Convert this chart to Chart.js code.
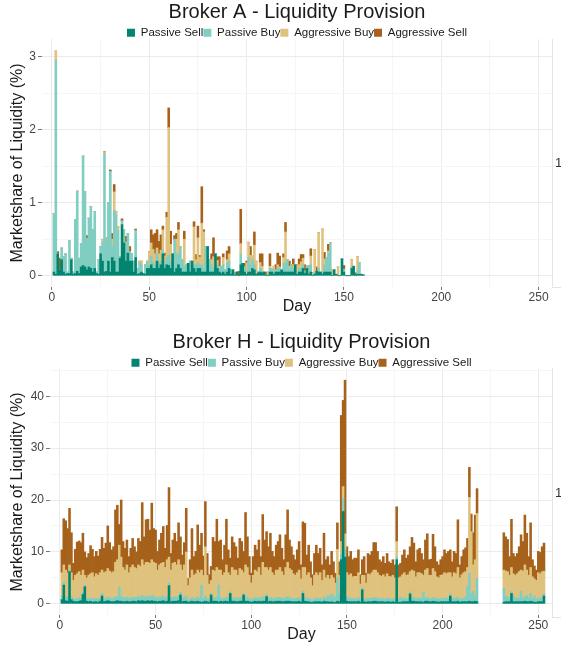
<!DOCTYPE html>
<html>
<head>
<meta charset="utf-8">
<script src="https://cdn.jsdelivr.net/npm/chart.js@4.4.1/dist/chart.umd.min.js"></script>
<style>
  body { margin: 0; background: #fff; }
  #wrap { position: relative; width: 561px; height: 647px; overflow: hidden; font-family: 'Liberation Sans', Arial, sans-serif; }
  canvas { position: absolute; left: 0; }
  .side { position: absolute; left: 552px; width: 14px; border-left: 1px solid #e4e4e4; border-bottom: 1px solid #e4e4e4; }
  .one { position: absolute; left: 555px; font-size: 13px; color: #333; }
</style>
</head>
<body>
<div id="wrap">
  <canvas id="chartA" width="561" height="320" style="top:0"></canvas>
  <canvas id="chartB" width="561" height="317" style="top:330px"></canvas>
  <div class="side" style="top:39px;height:248px"></div>
  <div class="side" style="top:368px;height:249px"></div>
  <div class="one" style="top:155px">1</div>
  <div class="one" style="top:485px">1</div>
</div>
<script>
var seriesNames = ['Passive Sell', 'Passive Buy', 'Aggressive Buy', 'Aggressive Sell'];
var seriesColors = ['#018571', '#80cdc1', '#dfc27d', '#a6611a'];

var xMajor = [0, 50, 100, 150, 200, 250];
var xMinor = [25, 75, 125, 175, 225];
var yMajorA = [0, 1, 2, 3];
var yMinorA = [0.5, 1.5, 2.5];
var yMajorB = [0, 10, 20, 30, 40];
var yMinorB = [5, 15, 25, 35, 45];

// Broker A, days 1..160
var dayRangesA = [[1, 160]];
var passiveSellA = [
  .05,.02,.30,.08,.22,.05,.02,.03,.03,.22,
  .02,.03,.06,.03,.12,.14,.12,.08,.12,.10,
  .05,.10,.03,.02,.30,.20,.05,.06,.20,.05,
  .25,.20,.05,.05,.24,.70,.45,.20,.31,.20,
  .20,.05,.25,.02,.03,.05,.03,.02,.10,.10,
  .15,.10,.10,.20,.10,.15,.30,.10,.15,.14,
  .10,.30,.05,.10,.15,.10,.05,.05,.05,.17,
  .05,.20,.10,.05,.10,.10,.05,.05,.05,.40,
  .05,.05,.05,.30,.10,.05,.03,.05,.02,.05,
  .10,.02,.08,.01,.05,0,.15,.17,.05,.02,
  .05,.05,.10,.08,.02,.04,.05,.04,.05,.01,
  0,.05,.05,.02,.05,.05,.05,.08,.05,.05,
  .05,.05,.05,.05,.15,.02,.05,.05,.10,.03,
  .10,.02,.05,0,.02,.06,.05,.05,.02,.05,
  .05,.05,.05,0,.08,.02,0,0,.23,.05,
  0,0,0,.10,.13,0,.02,.02,.02,.01
];
var passiveBuyA = [
  .80,2.93,0,0,.16,.21,.28,.02,.45,.02,
  .03,.74,1.10,.21,.32,1.50,1.03,.43,.67,.85,
  .58,.78,.02,.20,.10,.26,1.62,.46,.80,1.38,
  .15,.70,.78,.57,.02,.05,.18,.24,.27,.13,
  .10,.15,.37,.08,.15,.10,0,.13,.10,.03,
  .12,.08,.05,.10,.08,.05,.05,.05,.10,.14,
  .08,0,.45,.20,.15,.30,.17,.08,.10,0,
  .15,0,.05,.10,.08,.05,.10,.05,.35,0,
  .17,.10,.05,0,.05,.05,.10,.10,.06,.12,
  .10,.06,0,.03,0,0,.14,0,.07,0,
  .20,.10,.12,.07,0,.02,.05,.02,0,0,
  0,.05,.05,.03,.03,.05,.05,0,.12,.13,
  .17,.05,.10,.05,0,0,.05,.05,.05,.02,
  .03,.12,.10,0,.02,0,.05,0,.02,.10,
  .20,.26,.40,0,0,0,0,0,0,.04,
  0,0,0,.02,0,0,.04,.16,0,0
];
var aggressiveBuyA = [
  0,.13,0,0,0,0,0,0,0,0,
  0,0,0,0,0,0,0,0,0,0,
  0,0,0,0,0,.04,.02,0,0,0,
  .10,.25,.05,.05,0,0,0,.02,0,0,
  0,0,0,0,.02,.05,0,0,0,.20,
  .18,.18,.15,.08,.12,.15,.28,.12,.55,1.75,
  .25,0,0,.20,.33,0,0,.37,0,0,
  0,0,.52,.07,.34,.10,.57,.50,0,0,
  0,.07,.16,0,.06,.03,0,.10,0,.05,
  .10,0,0,0,0,0,.15,0,0,.16,
  .21,.13,.05,.27,.18,0,.08,.07,0,0,
  .05,.03,0,.08,0,.05,.02,0,.08,.42,
  0,.03,0,.05,0,.13,.05,.09,.09,.02,
  0,0,.12,.04,.32,0,.49,0,.60,.08,
  0,.03,0,.08,0,0,.12,0,0,0,
  0,0,0,.10,0,0,.20,0,0,0
];
var aggressiveSellA = [
  0,0,.03,.16,0,0,0,0,0,0,
  0,0,0,0,0,0,0,.04,0,0,
  0,0,0,0,0,0,.01,0,0,.02,
  .08,.10,0,0,0,.03,0,.08,0,.07,
  0,0,.02,0,0,0,0,0,0,0,
  .18,.20,.28,.25,.17,.21,.05,.04,.07,.27,
  .18,0,.05,.08,.10,0,0,.11,0,0,
  0,0,.07,.07,.16,.03,.50,.03,0,0,
  0,.08,.26,0,.05,.13,0,.05,0,.12,
  .10,0,0,0,0,.06,.47,0,.05,.02,
  0,.12,0,.18,0,0,.12,.17,0,.04,
  0,.17,0,0,.07,.16,.15,0,.05,.13,
  0,.07,0,.08,0,0,.08,.10,.05,.08,
  0,0,.10,0,0,.06,0,0,0,.09,
  0,.09,0,0,0,0,0,0,0,.05,
  0,0,0,0,0,.04,0,0,0,0
];

// Broker H, days 1..218 and 232..253
var dayRangesB = [[1, 218], [232, 253]];
var passiveSellB = [
  .8,3.6,.6,.5,6.2,.8,.5,.4,.4,.5,
  .6,1.8,3.3,.5,.4,.5,.3,.4,.4,.3,
  .5,1.5,.4,.5,.6,.5,.4,.4,.5,.6,
  .5,.5,.4,.4,.5,.4,.4,.5,.5,.4,
  .6,.5,.6,.5,.5,.6,.5,.6,.5,.5,
  .4,.5,.5,.6,.4,.5,3.5,.4,.5,.5,
  .5,.6,1.7,.4,.5,.5,.3,.4,.5,.4,
  .4,.5,.4,.3,.4,.5,.4,.3,1.7,.5,
  .5,.5,.3,.5,.4,.5,.5,.4,2.0,.5,
  .5,.4,.4,.5,.5,1.7,.5,.5,.4,.3,
  .4,.5,.4,.5,.4,.5,.5,1.4,.4,.5,
  .4,.4,.5,.5,.5,.4,.4,.5,.5,.5,
  .4,.4,.4,.4,.5,.3,2.0,.5,.4,.4,
  .3,.3,.4,.4,.4,.4,.3,.5,.4,.4,
  .3,.4,.3,.3,.5,.4,8.5,17.8,9.0,.5,
  .4,.4,.4,.4,.4,.5,.3,2.7,.4,.3,
  .4,.4,.4,.5,.5,.4,.4,.4,.4,.3,
  .4,.4,.3,.4,.3,8.5,.3,.3,.4,.4,
  .4,.4,1.9,.5,.5,.4,.4,.4,.4,.3,
  .5,.5,.4,.4,.5,.4,.4,.3,.4,.4,
  .4,.4,.4,1.5,.4,.4,.4,.5,.3,.4,
  .4,.4,.4,.5,.4,.4,.5,.4,
  .3,.4,.4,.4,2.0,.4,.4,.4,.4,.4,
  .4,.5,.4,.4,.5,.4,.3,.3,.4,.4,.4,1.5
];
var passiveBuyB = [
  .7,.5,.8,.7,.3,.6,.5,.6,.6,.7,
  .5,.4,.3,.5,.6,.6,.7,.5,.6,.6,
  .6,.5,.6,.6,.7,.6,.6,.7,.8,.8,
  2.7,1.0,.8,.7,.8,.6,.8,.8,.7,.8,
  .8,.7,1.0,.8,.9,.9,.8,1.0,.9,.8,
  .7,.8,.8,.9,.7,.9,.5,.7,.8,.8,
  .8,.9,.5,.7,.8,1.0,.4,.5,.7,.6,
  .6,.8,.7,3.3,.6,1.0,.6,.5,.3,.7,
  .7,.8,3.3,.7,.6,.6,.8,.6,.3,.7,
  .7,.7,.6,.7,.7,.3,.9,.7,.6,.5,
  .6,.7,.7,.7,.6,.9,.7,.4,.7,.7,
  .6,.6,.7,.7,.7,.7,.6,.7,.9,.7,
  .7,.6,.6,.7,.7,.5,.4,.8,.6,.7,
  .6,.4,.6,.7,.6,.7,.5,.8,.6,1.2,
  1.0,1.5,1.2,1.0,4.5,1.5,1.0,2.5,1.5,.8,
  .7,.7,.6,.6,.6,.7,.5,.3,.6,.5,
  .7,.6,.7,.7,.7,.7,.6,.6,.6,.6,
  .7,.6,.6,.6,.6,.5,.6,1.0,.6,.7,
  .6,.6,.4,.7,.7,.6,.7,.7,.7,2.0,
  .7,.7,.6,.6,.7,.7,.6,.6,.6,.6,
  .7,.7,.7,.4,.6,.7,.7,.8,.6,.6,
  .7,1.0,3.0,5.4,1.5,2.0,1.0,4.5,
  2.7,1.0,1.0,.7,.4,1.2,.7,.7,.7,2.0,
  .7,.9,1.2,.7,1.5,.7,1.2,.6,.7,.7,.7,.4
];
var aggressiveBuyB = [
  4.5,3.4,5.1,4.8,1.0,4.6,3.5,4.5,4.8,5.0,
  4.4,4.3,1.9,4.0,4.5,4.7,5.0,4.3,4.8,4.6,
  4.9,4.5,5.0,5.1,5.5,5.2,5.0,5.1,6.7,7.1,
  8.1,7.5,5.8,5.4,6.2,5.0,5.8,6.2,5.8,5.6,
  6.1,6.0,6.9,6.2,6.6,6.5,6.5,6.9,6.6,6.5,
  5.4,6.2,6.5,6.5,5.9,7.1,5.0,5.4,6.5,6.7,
  6.2,7.0,5.3,5.4,6.2,8.5,2.8,4.1,5.3,4.5,
  4.8,5.2,4.9,2.9,4.5,9.5,4.5,3.0,2.5,5.3,
  5.1,5.7,2.9,5.3,4.5,4.9,6.2,5.0,3.2,5.8,
  5.3,5.4,4.5,5.6,5.3,4.0,6.1,5.8,4.5,3.2,
  4.5,5.3,5.1,5.8,4.5,6.6,5.8,5.2,5.4,5.8,
  5.0,4.5,5.3,5.3,5.8,5.1,4.5,5.8,6.6,5.6,
  5.4,4.8,4.5,4.9,5.3,4.0,4.6,5.7,4.5,4.9,
  4.1,2.8,4.5,4.9,4.5,4.9,3.7,5.2,4.0,3.9,
  3.5,3.6,3.5,2.7,5.5,3.6,2.5,2.3,3.0,4.7,
  4.4,4.7,4.2,4.3,4.3,4.8,3.0,2.5,4.5,3.2,
  4.7,4.6,4.9,5.3,5.3,4.9,4.5,4.3,4.6,4.3,
  4.7,4.3,4.3,4.5,4.1,3.0,4.1,3.9,4.6,4.9,
  4.5,4.6,3.9,5.3,5.1,4.2,4.9,4.9,4.7,3.2,
  5.3,5.6,4.5,4.5,5.6,5.1,4.2,4.1,4.5,4.6,
  4.9,4.7,4.9,4.1,4.2,4.9,4.7,5.7,4.1,4.6,
  4.9,4.8,3.6,14.6,12.0,5.1,7.0,12.5,
  3.5,4.9,4.8,4.4,4.6,4.2,4.4,4.7,5.1,4.1,
  5.2,6.1,4.9,4.4,5.0,4.1,3.3,3.6,4.9,4.7,5.1,4.4
];
var aggressiveSellB = [
  4.4,8.9,9.5,8.5,10.9,7.7,3.3,5.0,6.1,5.9,
  6.3,7.1,4.5,3.9,4.2,5.4,4.5,3.9,4.3,3.7,
  4.5,6.3,4.7,5.5,8.2,5.5,4.4,4.8,10.1,10.5,
  4.0,11.0,5.0,4.2,4.8,3.1,3.7,5.1,4.0,3.2,
  5.1,4.8,11.0,5.4,8.2,8.3,6.4,10.9,6.5,6.4,
  3.6,4.8,5.8,6.9,3.7,6.6,13.4,3.2,4.5,5.6,
  4.5,7.1,5.4,2.9,4.3,8.4,1.4,3.5,8.0,3.6,
  4.3,8.7,5.3,7.1,3.7,8.7,4.2,1.8,2.7,6.3,
  5.7,9.3,5.5,5.8,3.0,5.3,8.8,4.4,3.3,5.9,
  5.3,4.5,3.3,5.8,5.5,4.1,10.1,5.9,3.6,1.9,
  3.6,4.8,4.2,5.3,3.6,9.2,5.3,6.9,4.5,6.6,
  4.1,3.6,4.8,5.5,6.3,4.5,3.0,6.3,10.1,5.5,
  4.5,3.6,3.0,4.4,5.5,2.7,8.8,8.5,3.9,5.3,
  3.1,2.1,4.2,5.3,4.2,4.7,3.0,7.1,3.5,3.6,
  2.7,4.6,3.1,1.9,5.1,2.6,24.3,16.6,29.6,5.0,
  3.6,4.3,3.3,3.5,3.5,4.4,1.8,3.0,3.6,1.9,
  3.9,3.8,4.1,5.3,5.3,4.1,3.0,2.8,3.5,2.6,
  3.9,2.8,2.6,3.0,2.5,6.7,2.5,2.6,3.8,4.4,
  3.3,3.8,4.8,6.3,5.4,2.9,4.4,4.7,3.9,3.0,
  5.8,6.7,3.0,3.1,6.6,4.8,2.9,2.5,3.0,3.5,
  4.4,3.9,4.1,4.4,2.9,4.1,3.9,9.2,2.5,3.5,
  4.4,4.6,5.6,5.8,3.4,6.2,8.6,4.8,
  7.2,6.6,6.2,3.6,9.3,3.9,3.6,3.9,4.8,6.8,
  5.7,9.6,7.1,3.6,8.6,3.3,2.5,2.0,4.1,4.1,4.8,5.4
];

Chart.defaults.font.family = "'Liberation Sans', Arial, sans-serif";
Chart.defaults.color = '#444';

function expandDays(ranges) {
  var out = [];
  ranges.forEach(function(r) {
    for (var d = r[0]; d <= r[1]; d++) out.push(d);
  });
  return out;
}

function tickSet(major, minor) {
  return major.concat(minor).sort(function(a, b) { return a - b; });
}

function makeChart(id, title, days, series, cfg) {
  var datasets = series.map(function(vals, k) {
    return {
      label: seriesNames[k],
      data: vals.map(function(v, i) { return { x: days[i], y: v }; }),
      backgroundColor: seriesColors[k],
      borderWidth: 0,
      barPercentage: 1,
      categoryPercentage: 1
    };
  });

  return new Chart(document.getElementById(id), {
    type: 'bar',
    data: { datasets: datasets },
    options: {
      responsive: false,
      animation: false,
      devicePixelRatio: 1,
      layout: { padding: { top: 0, right: cfg.padRight, bottom: 0, left: 0 } },
      plugins: {
        title: {
          display: true,
          text: title,
          fullSize: false,
          color: '#1a1a1a',
          font: { size: 20, weight: 'normal' },
          padding: { top: 0, bottom: 3 }
        },
        legend: {
          display: true,
          fullSize: false,
          maxHeight: 12,
          labels: {
            boxWidth: 8,
            boxHeight: 8,
            padding: 0,
            color: '#1a1a1a',
            font: { size: 11.5 }
          }
        },
        tooltip: { enabled: false }
      },
      scales: {
        x: {
          type: 'linear',
          stacked: true,
          offset: false,
          min: cfg.xMin,
          max: cfg.xMax,
          afterBuildTicks: function(scale) {
            scale.ticks = tickSet(xMajor, xMinor).map(function(v) { return { value: v }; });
          },
          afterFit: function(scale) { scale.height = cfg.xAxisHeight; },
          border: { display: false },
          grid: {
            offset: false,
            color: function(c) { return c.tick && xMajor.indexOf(c.tick.value) >= 0 ? '#ebebeb' : '#f5f5f5'; },
            tickColor: function(c) { return c.tick && xMajor.indexOf(c.tick.value) >= 0 ? '#777' : 'rgba(0,0,0,0)'; },
            tickLength: 3
          },
          ticks: {
            autoSkip: false,
            maxRotation: 0,
            padding: 0,
            color: '#444',
            font: { size: 12 },
            callback: function(v) { return xMajor.indexOf(v) >= 0 ? String(v) : ''; }
          },
          title: {
            display: true,
            text: 'Day',
            color: '#1a1a1a',
            font: { size: 16 },
            padding: { top: 0, bottom: cfg.xTitlePad }
          }
        },
        y: {
          stacked: true,
          min: cfg.yMin,
          max: cfg.yMax,
          afterBuildTicks: function(scale) {
            scale.ticks = tickSet(cfg.yMajor, cfg.yMinor).map(function(v) { return { value: v }; });
          },
          afterFit: function(scale) { scale.width = cfg.yAxisWidth; },
          border: { display: false },
          grid: {
            color: function(c) { return c.tick && cfg.yMajor.indexOf(c.tick.value) >= 0 ? '#ebebeb' : '#f5f5f5'; },
            tickColor: function(c) { return c.tick && cfg.yMajor.indexOf(c.tick.value) >= 0 ? '#777' : 'rgba(0,0,0,0)'; },
            tickLength: 4
          },
          ticks: {
            padding: 2,
            color: '#444',
            font: { size: 12 },
            callback: function(v) { return cfg.yMajor.indexOf(v) >= 0 ? String(v) : ''; }
          },
          title: {
            display: true,
            text: 'Marketshare of Liquidity (%)',
            color: '#1a1a1a',
            font: { size: 16 },
            padding: { top: 8.4, bottom: 0 }
          }
        }
      }
    }
  });
}

makeChart('chartA', 'Broker A - Liquidity Provision', expandDays(dayRangesA),
  [passiveSellA, passiveBuyA, aggressiveBuyA, aggressiveSellA],
  { xMin: -5.1, xMax: 256.9, yMin: -0.1545, yMax: 3.2445, yMajor: yMajorA, yMinor: yMinorA,
    yAxisWidth: 42, xAxisHeight: 33, xTitlePad: 3.4, padRight: 9 });

makeChart('chartB', 'Broker H - Liquidity Provision', expandDays(dayRangesB),
  [passiveSellB, passiveBuyB, aggressiveBuyB, aggressiveSellB],
  { xMin: -5.2, xMax: 257.7, yMin: -2.155, yMax: 45.255, yMajor: yMajorB, yMinor: yMinorB,
    yAxisWidth: 50, xAxisHeight: 32, xTitlePad: 2.4, padRight: 8 });
</script>
</body>
</html>
